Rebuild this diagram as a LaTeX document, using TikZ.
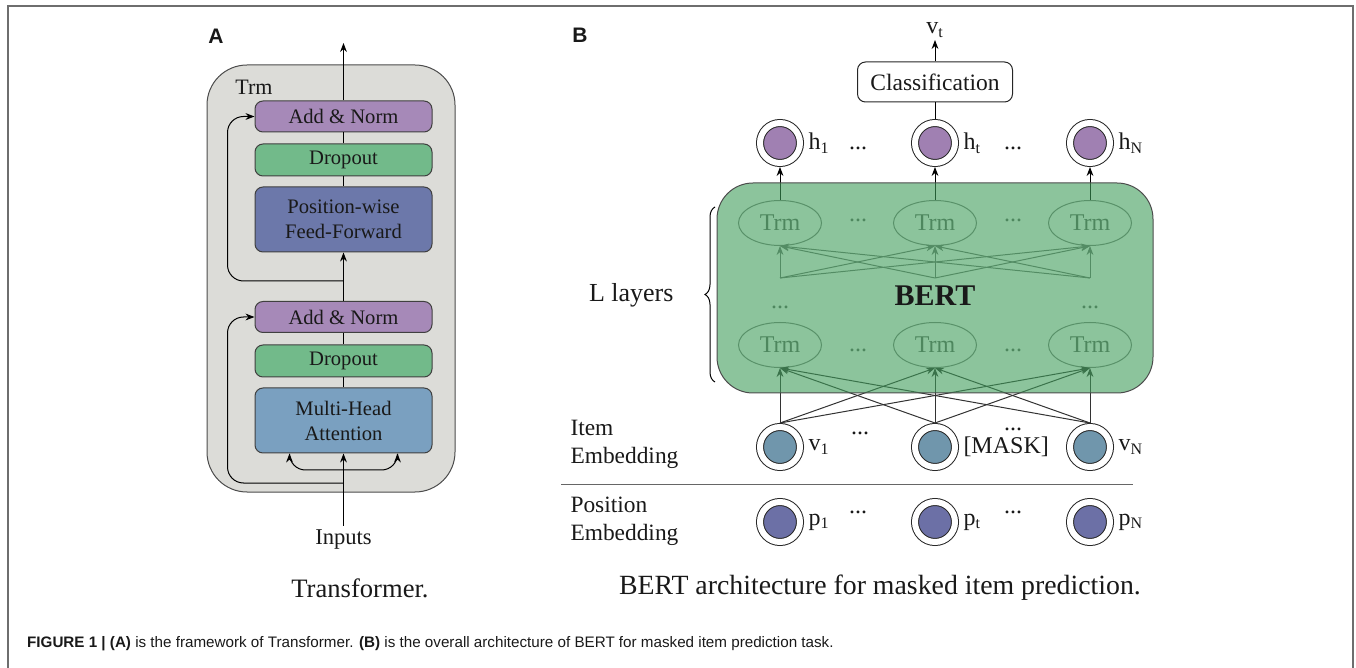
\documentclass[tikz,border=0pt]{standalone}
\usepackage{fontspec}
\setmainfont{Liberation Serif}
\setsansfont{Liberation Sans}
\usepackage{tikz}
\usetikzlibrary{positioning,arrows.meta,shapes.geometric,decorations.pathreplacing}
\definecolor{normpurple}{RGB}{166,137,184}
\definecolor{dropgreen}{RGB}{114,186,138}
\definecolor{ffblue}{RGB}{108,120,170}
\definecolor{attblue}{RGB}{122,160,192}
\definecolor{trmgray}{RGB}{220,220,216}
\definecolor{bertgreen}{RGB}{63,157,90}
\definecolor{hpurple}{RGB}{160,128,178}
\definecolor{itemblue}{RGB}{112,150,172}
\definecolor{posblue}{RGB}{108,112,166}
\definecolor{framegray}{RGB}{110,110,110}
\tikzset{
  layer/.style={draw=black!75, rounded corners=4pt, minimum width=88.5pt, align=center, inner sep=1pt, font=\fontsize{10.3}{12.5}\selectfont},
  ring/.style={circle, draw=black!85, double=white, double distance=3pt, minimum size=20pt, inner sep=0pt, outer sep=2pt},
  trm/.style={ellipse, draw=black!50, text=black!60, minimum width=41.5pt, minimum height=22.5pt, inner sep=0pt, font=\fontsize{12}{14}\selectfont},
  lbl/.style={inner sep=1pt, font=\fontsize{12}{14}\selectfont},
  panlab/.style={font=\sffamily\bfseries\fontsize{10.5}{12}\selectfont},
  capt/.style={font=\fontsize{13.3}{16}\selectfont}
}

\begin{document}
\begin{tikzpicture}[x=0.5pt,y=-0.5pt,line width=0.5pt,>={Stealth[length=4.5pt,width=3.4pt]},text=black!90]
  \useasboundingbox (0,0) rectangle (1356,668);
  \draw[framegray,line width=1pt] (8,690) -- (8,6) -- (1353,6) -- (1353,690);

  % (A) transformer block
  \node (labA) [panlab] at (216,36) {A};
  \node (trmbox) [draw=black!70, fill=trmgray, rounded corners=20pt, minimum width=124pt, minimum height=213.5pt] at (331,278.5) {};
  \node (trmlab) [font=\fontsize{11}{13}\selectfont] at (254,87) {Trm};
  \node (an1) [layer, fill=normpurple, minimum height=15.5pt] at (343.5,116.5) {Add \& Norm};
  \node (do1) [layer, fill=dropgreen, minimum height=16pt] at (343.5,160) {Dropout};
  \node (ff) [layer, fill=ffblue, minimum height=32.5pt] at (343.5,219.5) {Position-wise\\Feed-Forward};
  \node (an2) [layer, fill=normpurple, minimum height=15.5pt] at (343.5,317) {Add \& Norm};
  \node (do2) [layer, fill=dropgreen, minimum height=16pt] at (343.5,361) {Dropout};
  \node (mha) [layer, fill=attblue, minimum height=32.5pt] at (343.5,420.5) {Multi-Head\\Attention};
  \node (inputs) [font=\fontsize{11.3}{13}\selectfont, inner sep=2pt] at (343.5,540) {Inputs};
  \coordinate (out) at (343.5,43);
  \coordinate (res1) at (343.5,281);
  \coordinate (res2) at (343.5,483);
  \coordinate (split) at (343.5,470);
  \draw[->] (inputs.north) -- (mha.south);
  \draw (mha) -- (do2);
  \draw (do2) -- (an2);
  \draw[->] (an2) -- (ff);
  \draw (ff) -- (do1);
  \draw (do1) -- (an1);
  \draw[->] (an1) -- (out);
  \draw[->,rounded corners=8pt] (res2) -- ++(-116,0) |- (an2.west);
  \draw[->,rounded corners=8pt] (res1) -- ++(-116,0) |- (an1.west);
  \draw[->,rounded corners=8pt] (split) -| ([xshift=17.5pt]mha.south west);
  \draw[->,rounded corners=8pt] (split) -| ([xshift=-17.5pt]mha.south east);
  \node (captA) [capt] at (360,588) {Transformer.};

  % (B) BERT
  \node (labB) [panlab] at (580,35) {B};
  \node (cls) [draw=black!85, rounded corners=4pt, minimum width=77.5pt, minimum height=20pt, font=\fontsize{11.75}{14}\selectfont] at (935,82) {Classification};
  \node (vt) [lbl, anchor=south] at (935,40) {v\textsubscript{t}};
  \draw[->] (cls) -- (vt);
  \foreach \c/\x/\s in {1/780/1,2/935/t,3/1090/N} {
    \node (h\c) [ring, fill=hpurple] at (\x,143) {};
    \node (h\c lab) [lbl, right=1pt of h\c] {h\textsubscript{\s}};
    \node (p\c) [ring, fill=posblue] at (\x,522) {};
    \node (p\c lab) [lbl, right=1pt of p\c] {p\textsubscript{\s}};
    \node (v\c) [ring, fill=itemblue] at (\x,447) {};
    \node (tt\c) [trm] at (\x,223) {Trm};
    \node (tb\c) [trm] at (\x,345) {Trm};
    \coordinate (bs\c) at (\x,278);
  }
  \draw (h2) -- (cls);
  \node (v1lab) [lbl, right=1pt of v1] {v\textsubscript{1}};
  \node (v2lab) [lbl, right=1pt of v2] {[MASK]};
  \node (v3lab) [lbl, right=1pt of v3] {v\textsubscript{N}};
  \foreach \x in {858,1013} {
    \node [lbl] at (\x,148) {...};
    \node [lbl] at (\x,512) {...};
    \node [lbl, text=black!60] at (\x,220) {...};
    \node [lbl, text=black!60] at (\x,350) {...};
  }
  \node (vdots1) [lbl] at (860,433) {...};
  \node (vdots2) [lbl] at (1013,429) {...};
  \node (mdots1) [lbl, text=black!60] at (780,307) {...};
  \node (mdots3) [lbl, text=black!60] at (1090,307) {...};
  \foreach \i in {1,2,3} {
    \draw[->] (tt\i) -- (h\i);
    \foreach \j in {1,2,3} {
      \draw[->, black!55] (bs\i) -- (tt\j.south);
      \draw[->, black!80] (v\i.north) -- (tb\j.south);
    }
  }
  \node (bert) [draw=black!70, fill=bertgreen, fill opacity=0.6, rounded corners=18pt, minimum width=218pt, minimum height=105pt] at (935,288) {};
  \node (bertlab) [font=\bfseries\fontsize{15}{18}\selectfont] at (935,296) {BERT};
  \draw[decorate, decoration={brace, amplitude=5pt}] (715,382) -- (715,207);
  \node (llayers) [font=\fontsize{13}{15}\selectfont, anchor=east, inner sep=0pt] at (674,295) {L layers};
  \node (itemlab) [anchor=west, align=left, inner sep=0pt, font=\fontsize{11.7}{14}\selectfont] at (570,444) {Item\\Embedding};
  \draw[black!60] (561,484) -- (1133,484);
  \node (poslab) [anchor=west, align=left, inner sep=0pt, font=\fontsize{11.7}{14}\selectfont] at (570,521) {Position\\Embedding};
  \node (captB) [font=\fontsize{13.9}{16}\selectfont] at (880,588) {BERT architecture for masked item prediction.};

  \node (fig) [anchor=west, font=\sffamily\fontsize{7.6}{9}\selectfont] at (20,644) {\textbf{FIGURE 1 | (A)} is the framework of Transformer. \textbf{(B)} is the overall architecture of BERT for masked item prediction task.};
\end{tikzpicture}
\end{document}
